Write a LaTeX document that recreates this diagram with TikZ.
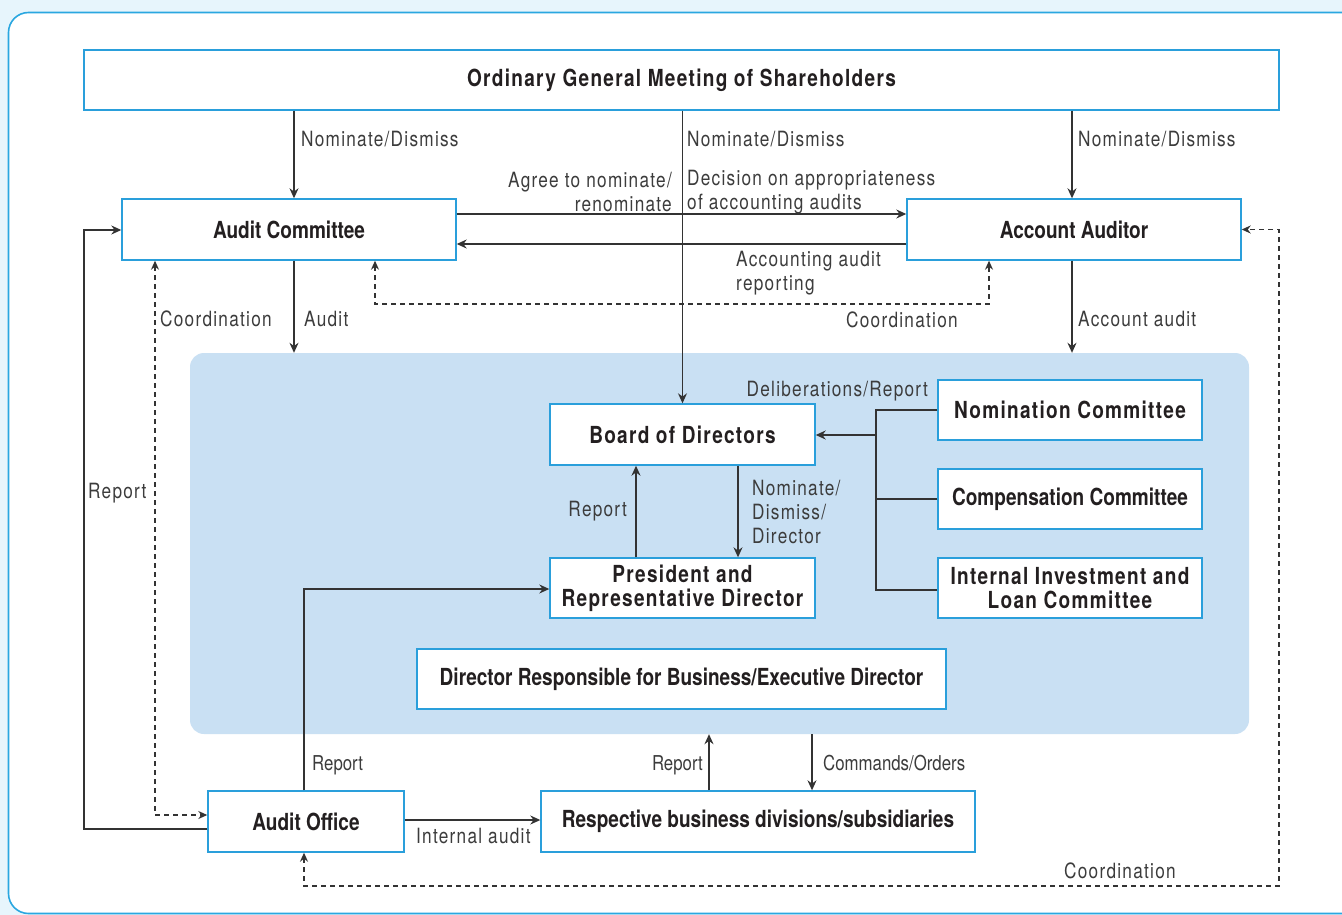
\documentclass[tikz,border=0pt]{standalone}
\usepackage{fontspec}
\setmainfont{TeX Gyre Heros}
\newfontfamily\lblfamily[FakeStretch=0.82,LetterSpace=6]{TeX Gyre Heros}
\newfontfamily\lblcfamily[FakeStretch=0.82]{TeX Gyre Heros}
\newfontfamily\boxfamily[FakeStretch=0.81]{TeX Gyre Heros}
\newfontfamily\boxtfamily[FakeStretch=0.81,LetterSpace=5.5]{TeX Gyre Heros}
\usetikzlibrary{arrows.meta}
\definecolor{pagebg}{HTML}{E7F5FC}
\definecolor{framec}{HTML}{2AA7E0}
\definecolor{boxc}{HTML}{2A9FDB}
\definecolor{execc}{HTML}{C9E0F3}
\definecolor{linec}{HTML}{333333}
\definecolor{lblc}{HTML}{3C3C3C}
\definecolor{txtc}{HTML}{231F20}
\tikzset{
  box/.style={draw=boxc, line width=1.4pt, fill=white, rectangle, inner sep=0pt,
    align=center, text=txtc, font={\boxfamily\bfseries\fontsize{23.5}{24}\selectfont}},
  tbox/.style={box, font={\boxtfamily\bfseries\fontsize{23.5}{24}\selectfont}},
  lbl/.style={inner sep=0pt, text=lblc, font={\lblfamily\fontsize{21}{24}\selectfont},
    text height=15pt, text depth=0pt},
  lblm/.style={inner sep=0pt, text=lblc, font={\lblfamily\fontsize{21}{24}\selectfont}},
  lblc/.style={inner sep=0pt, text=lblc, font={\lblcfamily\fontsize{20.5}{24}\selectfont},
    text height=15pt, text depth=0pt},
  conn/.style={draw=linec, line width=1.3pt},
  arr/.style={conn, -{Stealth[length=10pt,width=9pt]}},
  darr/.style={conn, dash pattern=on 5pt off 4pt, {Stealth[length=9pt,width=8pt]}-{Stealth[length=9pt,width=8pt]}},
}
\begin{document}
\begin{tikzpicture}[x=1pt,y=-1pt]
\useasboundingbox (0,0) rectangle (1342,915);
\fill[pagebg] (0,0) rectangle (1342,915);
\begin{scope}
\clip (0,0) rectangle (1342,915);
\draw[framec, line width=1.6pt, fill=white, rounded corners=20pt] (8.5,12.5) rectangle (1500,913.5);
\end{scope}

% executive region
\node[fill=execc, rounded corners=14pt, minimum width=1059pt, minimum height=381pt, inner sep=0pt] (exec) at (719.5,543.5) {};

% boxes
\node[tbox, minimum width=1195pt, minimum height=60pt] (gm) at (681.5,80) {Ordinary General Meeting of Shareholders};
\node[box, minimum width=334pt, minimum height=61pt] (ac) at (289,229.5) {Audit Committee};
\node[box, minimum width=334pt, minimum height=61pt] (aa) at (1074,229.5) {Account Auditor};
\node[tbox, minimum width=265pt, minimum height=61pt] (bd) at (682.5,434.5) {Board of Directors};
\node[tbox, minimum width=264pt, minimum height=60pt] (nc) at (1070,410) {Nomination Committee};
\node[box, minimum width=264pt, minimum height=60pt] (cc) at (1070,499) {Compensation Committee};
\node[tbox, minimum width=264pt, minimum height=60pt] (ic) at (1070,588) {Internal Investment and\\Loan Committee};
\node[tbox, minimum width=265pt, minimum height=60pt] (pr) at (682.5,588) {President and\\Representative Director};
\node[box, minimum width=529pt, minimum height=60pt] (dr) at (681.5,679) {Director Responsible for Business/Executive Director};
\node[box, minimum width=196pt, minimum height=61pt] (ao) at (306,821.5) {Audit Office};
\node[box, minimum width=434pt, minimum height=61pt] (rb) at (758,821.5) {Respective business divisions/subsidiaries};

% helper coordinates
\coordinate (xA) at (294,0);
\coordinate (xC) at (1072,0);
\coordinate (xCa) at (375,304);
\coordinate (xCb) at (989,304);
\coordinate (yAg) at (0,214);
\coordinate (yRp) at (0,244);
\coordinate (cl) at (155,815);
\coordinate (rl) at (84,230);
\coordinate (bus) at (876,435);
\coordinate (yN) at (0,410);
\coordinate (yC) at (0,499);
\coordinate (yI) at (0,590);
\coordinate (xBP) at (738,0);
\coordinate (xPB) at (636,0);
\coordinate (apr) at (304,589);
\coordinate (xR) at (709,0);
\coordinate (xO) at (812,0);
\coordinate (yIA) at (0,820);
\coordinate (cb) at (1279,886);

% connectors
\draw[arr] (gm.south -| xA) -- (ac.north -| xA);
\draw[arr] (gm.south -| bd.north) -- (bd.north);
\draw[arr] (gm.south -| xC) -- (aa.north -| xC);
\draw[arr] (ac.east |- yAg) -- (aa.west |- yAg);
\draw[arr] (aa.west |- yRp) -- (ac.east |- yRp);
\draw[darr] (ac.south -| xCa) -- (xCa) -- (xCb) -- (aa.south -| xCb);
\draw[arr] (ac.south -| xA) -- (exec.north -| xA);
\draw[arr] (aa.south -| xC) -- (exec.north -| xC);
\draw[darr] (ac.south -| cl) -- (cl) -- (ao.west |- cl);
\draw[arr] (ao.west |- 0,829) -- (84,829) -- (rl) -- (ac.west |- rl);
\draw[conn] (nc.west |- yN) -- (bus |- yN) -- (bus |- yI) -- (ic.west |- yI);
\draw[conn] (cc.west |- yC) -- (bus |- yC);
\draw[arr] (bus) -- (bd.east |- bus);
\draw[arr] (bd.south -| xBP) -- (pr.north -| xBP);
\draw[arr] (pr.north -| xPB) -- (bd.south -| xPB);
\draw[arr] (ao.north -| apr) -- (apr) -- (pr.west |- apr);
\draw[arr] (rb.north -| xR) -- (exec.south -| xR);
\draw[arr] (exec.south -| xO) -- (rb.north -| xO);
\draw[arr] (ao.east |- yIA) -- (rb.west |- yIA);
\draw[darr] (ao.south -| apr) -- (apr |- cb) -- (cb) -- (cb |- aa.east) -- (aa.east);

% labels
\node[lbl, anchor=west] (l1) at (301,139) {Nominate/Dismiss};
\node[lbl, anchor=west] (l2) at (687,139) {Nominate/Dismiss};
\node[lbl, anchor=west] (l3) at (1078,139) {Nominate/Dismiss};
\node[lblm, anchor=east, align=right] (l4) at (672,192) {Agree to nominate/\\renominate};
\node[lblm, anchor=west, align=left] (l5) at (687,192) {Decision on appropriateness\\of accounting audits};
\node[lblm, anchor=west, align=left] (l6) at (736,273) {Accounting audit\\reporting};
\node[lbl, anchor=west] (l7) at (846,320) {Coordination};
\node[lbl, anchor=west] (l8) at (160,319) {Coordination};
\node[lbl, anchor=west] (l9) at (304,319) {Audit};
\node[lbl, anchor=west] (l10) at (1078,319) {Account audit};
\node[lbl, anchor=west] (l11) at (88,491) {Report};
\node[lbl, anchor=east] (l12) at (928,389) {Deliberations/Report};
\node[lblm, anchor=west, align=left] (l13) at (752,512) {Nominate/\\Dismiss/\\Director};
\node[lbl, anchor=east] (l14) at (627,509) {Report};
\node[lblc, anchor=west] (l15) at (312,763) {Report};
\node[lblc, anchor=east] (l16) at (703,763) {Report};
\node[lblc, anchor=west] (l17) at (823,763) {Commands/Orders};
\node[lbl, anchor=west] (l18) at (416,836) {Internal audit};
\node[lbl, anchor=west] (l19) at (1064,871) {Coordination};
\end{tikzpicture}
\end{document}
